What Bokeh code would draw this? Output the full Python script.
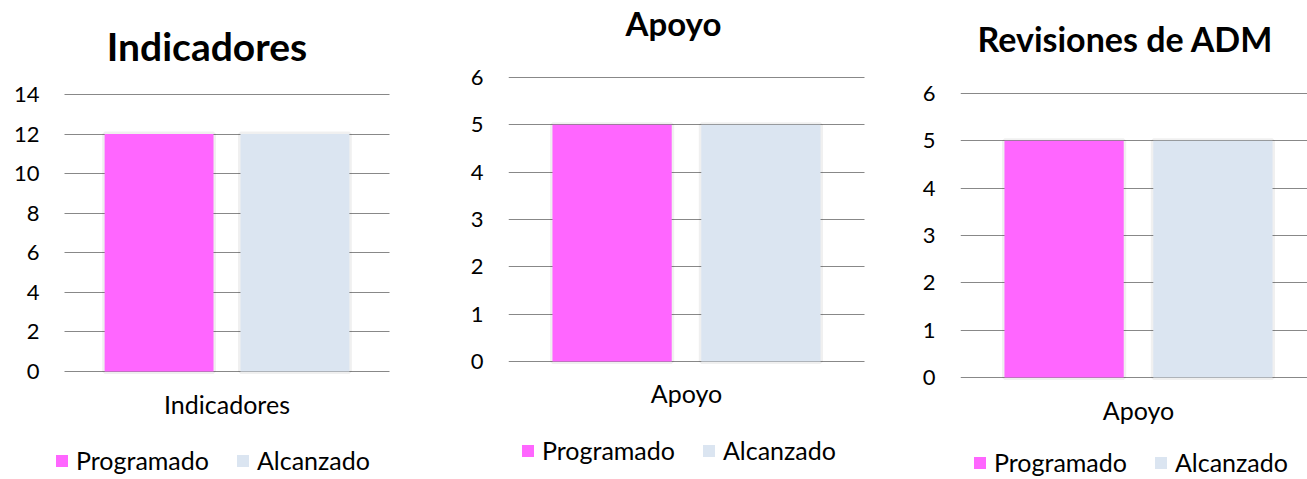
from bokeh.plotting import figure
from bokeh.layouts import row
from bokeh.models import (Range1d, FixedTicker, ColumnDataSource, Legend, LegendItem, Label)
from bokeh.core.properties import value
from bokeh.transform import dodge
from bokeh.embed import file_html
from bokeh.resources import INLINE

# ---- data ----
series = ["Programado", "Alcanzado"]
colors = ["#FF66FF", "#DBE5F1"]

titles = ["Indicadores", "Apoyo", "Revisiones de ADM"]
categories = [["Indicadores"], ["Apoyo"], ["Apoyo"]]
programado = [[12], [5], [5]]
alcanzado = [[12], [5], [5]]
y_ticks = [[0, 2, 4, 6, 8, 10, 12, 14], [0, 1, 2, 3, 4, 5, 6], [0, 1, 2, 3, 4, 5, 6]]

FONT = "Lato"
H = 479

# ---- layout specs (pixels / view ranges) ----
specs = [
    dict(w=430, left=50, x0=-0.54308, x1=0.62615, y0=-5.4585, y1=18.751, ys=11,
         tsize="39px", tx=156.5, ty=434, lx=4, ly=4, spacing=26),
    dict(w=440, left=78, x0=-0.5, x1=0.51685, y0=-2.4930, y1=7.6268, ys=25,
         tsize="33px", tx=165, ty=457, lx=12, ly=14, spacing=26),
    dict(w=437, left=90, x0=-0.5, x1=-0.5 + 347 / 356, y0=-2.1549, y1=7.9648, ys=25,
         tsize="34px", tx=165, ty=441, lx=12, ly=2, spacing=26),
]

OFF = 0.209
BW = 0.335

plots = []
for i, s in enumerate(specs):
    p = figure(width=s["w"], height=H, output_backend="svg", toolbar_location=None,
               x_range=Range1d(s["x0"], s["x1"]), y_range=Range1d(s["y0"], s["y1"]),
               min_border_left=s["left"], min_border_right=0,
               min_border_top=0, min_border_bottom=0)
    p.outline_line_color = None
    p.background_fill_color = "white"
    p.border_fill_color = "white"

    src = ColumnDataSource(dict(x=list(range(len(categories[i]))), cat=categories[i],
                                prog=programado[i], alc=alcanzado[i]))
    renderers = []
    for col, c, off in [("prog", colors[0], -OFF), ("alc", colors[1], OFF)]:
        p.vbar(x=dodge("x", off), top=col, width=BW, bottom=0, source=src,
               fill_color=None, line_color="#000000", line_alpha=0.06, line_width=5)
        r = p.vbar(x=dodge("x", off), top=col, width=BW, bottom=0, source=src,
                   fill_color=c, line_color=None)
        renderers.append(r)

    # category label under the group
    p.text(x="x", y=0, text="cat", source=src, text_align="center", text_baseline="alphabetic",
           y_offset=32, text_font=value(FONT), text_font_size="25px", text_color="#000000")

    p.xaxis.visible = False
    p.xgrid.grid_line_color = None
    p.ygrid.grid_line_color = "#888888"
    p.ygrid.grid_line_width = 1.2
    p.ygrid.ticker = FixedTicker(ticks=y_ticks[i])
    p.ygrid.cross_bounds = (-0.5, 0.5)

    p.yaxis.ticker = FixedTicker(ticks=y_ticks[i])
    p.yaxis.axis_line_color = None
    p.yaxis.major_tick_line_color = None
    p.yaxis.minor_tick_line_color = None
    p.yaxis.major_tick_out = 0
    p.yaxis.major_label_standoff = s["ys"]
    p.yaxis.major_label_text_font = FONT
    p.yaxis.major_label_text_font_size = "22px"
    p.yaxis.major_label_text_color = "#000000"

    p.add_layout(Label(x=s["tx"], y=s["ty"], x_units="screen", y_units="screen",
                       text=titles[i], text_align="center", text_baseline="alphabetic",
                       text_font=FONT, text_font_style="bold", text_font_size=s["tsize"],
                       text_color="#000000"))

    legend = Legend(items=[LegendItem(label=series[k], renderers=[renderers[k]]) for k in range(2)],
                    location=(s["lx"], s["ly"]), orientation="horizontal",
                    glyph_width=15, glyph_height=15, label_height=15,
                    label_standoff=7, spacing=s["spacing"], padding=0, margin=0,
                    border_line_color=None, background_fill_alpha=0,
                    label_text_font=FONT, label_text_font_size="25px",
                    label_text_color="#000000", label_text_baseline="middle")
    p.add_layout(legend, "center")
    plots.append(p)

layout = row(*plots, spacing=0)
open("out.html", "w").write(file_html(layout, INLINE))
